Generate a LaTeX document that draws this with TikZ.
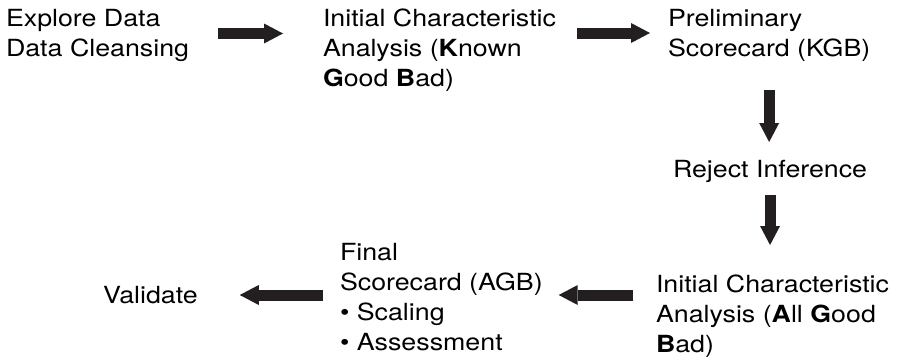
\documentclass[tikz,border=0pt]{standalone}
\usepackage{fontspec}
\setmainfont{TeX Gyre Heros}[FakeStretch=1.135]
\usetikzlibrary{arrows.meta,calc}
\definecolor{ink}{RGB}{35,31,32}
\tikzset{
  lbl/.style={inner sep=0pt, outer sep=0pt, align=left, anchor=north west,
    font=\fontsize{23.6}{30}\selectfont, text=black},
  bigarrow/.style={draw=ink, line width=11pt,
    -{Triangle[length=19pt,width=20pt,line width=0pt]}}
}
\begin{document}
\begin{tikzpicture}[x=1pt,y=1pt]
\useasboundingbox (0,0) rectangle (902,-359);
\node[lbl] (A) at (6,-9.5) {Explore Data\\Data Cleansing};
\node[lbl] (B) at (323,-8.5) {Initial Characteristic\\Analysis (\textbf{K}nown\\\textbf{G}ood \textbf{B}ad)};
\node[lbl] (C) at (668,-9) {Preliminary\\Scorecard (KGB)};
\node[lbl] (D) at (673,-160) {Reject Inference};
\node[lbl] (E) at (656,-275) {Initial Characteristic\\Analysis (\textbf{A}ll \textbf{G}ood\\\textbf{B}ad)};
\node[lbl] (F) at (340,-243) {Final\\Scorecard (AGB)\\• Scaling\\• Assessment};
\node[lbl, anchor=west] (G) at (103,-295) {Validate};
\draw[bigarrow] ($(A.north east)+(29,-24)$) -- ($(B.north west)+(-40,-25)$);
\draw[bigarrow] ($(B.north east)+(21,-24.5)$) -- ($(C.north west)+(-18,-24)$);
\draw[bigarrow] ($(C.south)+(0,-29)$) -- ($(C.south |- D.north)+(0,18)$);
\draw[bigarrow] ($(D.south)+(0,-13)$) -- ($(D.south |- E.north)+(0,30)$);
\draw[bigarrow] ($(E.north west)+(-23,-20)$) -- ($(F.north east)+(16,-52)$);
\draw[bigarrow] ($(F.north west)+(-17,-52)$) -- ($(G.east)+(42,0)$);
\end{tikzpicture}
\end{document}
